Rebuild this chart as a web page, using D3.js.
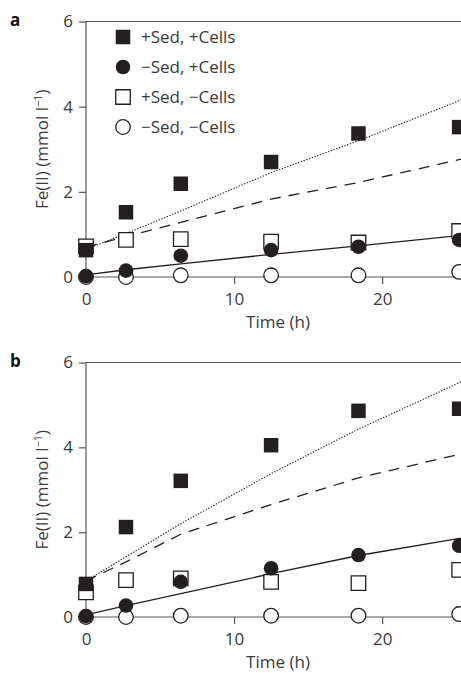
<!DOCTYPE html>
<html>
<head>
<meta charset="utf-8">
<script src="https://cdn.jsdelivr.net/npm/d3@7"></script>
<style>
  body { margin: 0; background: #fff; }
  svg { display: block; font-family: "Open Sans", sans-serif; }
</style>
</head>
<body>
<div id="chart"></div>
<script>
// sampling times (h)
const hours = [0, 2.7, 6.4, 12.5, 18.4, 25.2]
const seriesNames = ["+Sed, +Cells", "\u2212Sed, +Cells", "+Sed, \u2212Cells", "\u2212Sed, \u2212Cells"]
const yTicks = [0, 2, 4, 6]
const xTicks = [0, 10, 20]

// panel a, Fe(II) mmol/l
const aSedCells = [0.63, 1.52, 2.19, 2.70, 3.37, 3.52]
const aCells = [0.02, 0.15, 0.50, 0.63, 0.71, 0.87]
const aSed = [0.72, 0.87, 0.89, 0.83, 0.81, 1.08]
const aNone = [0.00, 0.00, 0.04, 0.04, 0.04, 0.12]

// panel b
const bSedCells = [0.78, 2.12, 3.21, 4.05, 4.86, 4.91]
const bCells = [0.02, 0.27, 0.83, 1.15, 1.46, 1.68]
const bSed = [0.58, 0.87, 0.91, 0.83, 0.80, 1.11]
const bNone = [0.00, 0.00, 0.03, 0.03, 0.03, 0.07]

// model curves
const modelTimes = [0, 2.7, 6.4, 12.5, 18.4, 26]
const aDotted = [0.65, 1.02, 1.55, 2.45, 3.20, 4.25]
const aDashed = [0.70, 0.95, 1.28, 1.83, 2.22, 2.82]
const aSolid = [0.05, 0.17, 0.31, 0.53, 0.73, 1.00]
const bDotted = [0.85, 1.42, 2.20, 3.38, 4.43, 5.65]
const bDashed = [0.85, 1.30, 1.95, 2.65, 3.28, 3.90]
const bSolid = [0.05, 0.27, 0.55, 1.02, 1.45, 1.90]

const width = 461, height = 673
const ink = "#231f20", axisCol = "#555", textCol = "#3a3a3a"

const svg = d3.select("#chart").append("svg")
  .attr("width", width).attr("height", height)

// marker styles in legend order
const markers = [
  { sym: d3.symbolSquare, fill: ink, stroke: "none" },
  { sym: d3.symbolCircle, fill: ink, stroke: "none" },
  { sym: d3.symbolSquare, fill: "#fff", stroke: ink },
  { sym: d3.symbolCircle, fill: "#fff", stroke: ink }
]
function symPath(m) {
  // ~15px squares and circles
  const area = m.sym === d3.symbolSquare ? 14.5 * 14.5 : Math.PI * 7.3 * 7.3
  return d3.symbol(m.sym, area)()
}

function drawPanel(cfg) {
  const x = d3.scaleLinear().domain([0, 26]).range([86, 471])
  const y = d3.scaleLinear().domain([0, 6]).range([cfg.bottom, cfg.top])
  const g = svg.append("g")

  // frame: top line
  g.append("line")
    .attr("x1", x(0)).attr("x2", x(26))
    .attr("y1", y(6)).attr("y2", y(6))
    .attr("stroke", axisCol).attr("stroke-width", 1.2)

  const yAxis = g.append("g")
    .attr("transform", `translate(${x(0)},0)`)
    .call(d3.axisLeft(y).tickValues(yTicks).tickFormat(d3.format("d")).tickSize(7).tickPadding(6))
  const xAxis = g.append("g")
    .attr("transform", `translate(0,${y(0)})`)
    .call(d3.axisBottom(x).tickValues(xTicks).tickFormat(d3.format("d")).tickSize(7).tickPadding(9))
  ;[yAxis, xAxis].forEach(a => {
    a.attr("font-size", 17).attr("font-family", "Open Sans, sans-serif")
    a.select(".domain").attr("stroke", axisCol).attr("stroke-width", 1.2)
    a.selectAll(".tick line").attr("stroke", axisCol).attr("stroke-width", 1.2)
    a.selectAll(".tick text").attr("fill", textCol)
  })
  xAxis.select(".domain").attr("d", `M${x(0)},0H${x(26)}`)
  yAxis.select(".domain").attr("d", `M0,${y(0)}V${y(6)}`)

  // axis titles
  g.append("text")
    .attr("x", 278).attr("y", cfg.bottom + 51)
    .attr("text-anchor", "middle").attr("fill", textCol)
    .style("font-size", "17px").text("Time (h)")
  const yl = g.append("text")
    .attr("transform", `translate(48,${(y(0) + y(6)) / 2}) rotate(-90)`)
    .attr("text-anchor", "middle").attr("fill", textCol)
    .style("font-size", "17px")
  yl.append("tspan").text("Fe(II) (mmol l")
  yl.append("tspan").attr("dy", -6).style("font-size", "11px").text("\u22121")
  yl.append("tspan").attr("dy", 6).text(")")

  // panel letter
  g.append("text")
    .attr("x", 10).attr("y", cfg.top + 4)
    .attr("fill", "#111").style("font-size", "17px").style("font-weight", "bold")
    .text(cfg.letter)

  // model curves
  const line = d3.line().x(d => x(d[0])).y(d => y(d[1]))
  const curves = [
    { v: cfg.dotted, dash: "1.3,1.6", w: 1.1 },
    { v: cfg.dashed, dash: "11,8", w: 1.3 },
    { v: cfg.solid, dash: null, w: 1.3 }
  ]
  g.selectAll("path.model").data(curves).join("path")
    .attr("class", "model")
    .attr("d", c => line(modelTimes.map((t, i) => [t, c.v[i]])))
    .attr("fill", "none").attr("stroke", ink)
    .attr("stroke-width", c => c.w)
    .attr("stroke-dasharray", c => c.dash)

  // markers: open circles, open squares, filled circles, filled squares
  const order = [3, 2, 1, 0]
  order.forEach(k => {
    const m = markers[k]
    g.selectAll(null).data(hours.map((t, i) => [t, cfg.series[k][i]])).join("path")
      .attr("d", symPath(m))
      .attr("transform", d => `translate(${x(d[0])},${y(d[1])})`)
      .attr("fill", m.fill).attr("stroke", m.stroke).attr("stroke-width", 1.3)
  })

  if (cfg.legend) {
    const lg = g.append("g")
    seriesNames.forEach((name, k) => {
      const cy = 37 + k * 30
      lg.append("path").attr("d", symPath(markers[k]))
        .attr("transform", `translate(123,${cy})`)
        .attr("fill", markers[k].fill).attr("stroke", markers[k].stroke).attr("stroke-width", 1.3)
      lg.append("text").attr("x", 141).attr("y", cy + 6)
        .attr("fill", textCol).style("font-size", "17px").text(name)
    })
  }
}

drawPanel({
  letter: "a", top: 21.5, bottom: 277, legend: true,
  series: [aSedCells, aCells, aSed, aNone],
  dotted: aDotted, dashed: aDashed, solid: aSolid
})
drawPanel({
  letter: "b", top: 362.5, bottom: 617, legend: false,
  series: [bSedCells, bCells, bSed, bNone],
  dotted: bDotted, dashed: bDashed, solid: bSolid
})
</script>
</body>
</html>
